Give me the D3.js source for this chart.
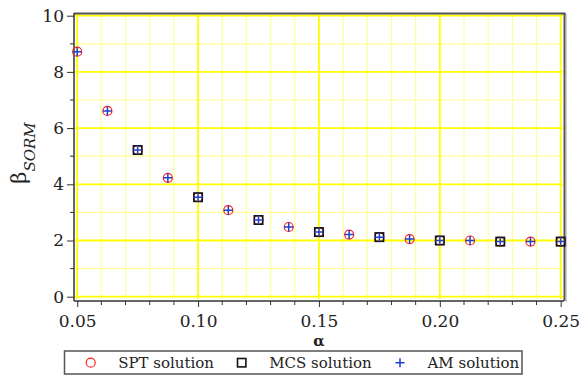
<!DOCTYPE html>
<html>
<head>
<meta charset="utf-8">
<script src="https://cdn.jsdelivr.net/npm/d3@7"></script>
<style>
  html, body { margin: 0; padding: 0; background: #fff; }
  svg { display: block; }
</style>
</head>
<body>
<svg id="chart" width="582" height="376"></svg>
<script>
// Reliability index vs. alpha for three solution methods
const alpha   = [0.05, 0.0625, 0.075, 0.0875, 0.10, 0.1125, 0.125, 0.1375, 0.15, 0.1625, 0.175, 0.1875, 0.20, 0.2125, 0.225, 0.2375, 0.25];
const sptBeta = [8.72, 6.61, 5.22, 4.23, 3.54, 3.08, 2.73, 2.48, 2.30, 2.21, 2.12, 2.05, 2.00, 2.00, 1.96, 1.96, 1.96];
const amBeta  = [8.72, 6.61, 5.22, 4.23, 3.54, 3.08, 2.73, 2.48, 2.30, 2.21, 2.12, 2.05, 2.00, 2.00, 1.96, 1.96, 1.96];
const mcsAlpha = [0.075, 0.10, 0.125, 0.15, 0.175, 0.20, 0.225, 0.25];
const mcsBeta  = [5.22, 3.54, 2.73, 2.30, 2.12, 2.00, 1.96, 1.96];
const xTicks = [0.05, 0.10, 0.15, 0.20, 0.25];
const yTicks = [0, 2, 4, 6, 8, 10];
const legendLabels = ["SPT solution", "MCS solution", "AM solution"];

const svg = d3.select("#chart");
const FONT = "'DejaVu Serif', serif";

const x = d3.scaleLinear().domain([0.05, 0.25]).range([77.2, 560.7]);
const y = d3.scaleLinear().domain([0, 10]).range([296.7, 15.7]);

const xMinor = d3.range(0, 21).map(i => 0.05 + i * 0.01).filter(v => !xTicks.some(t => Math.abs(t - v) < 1e-9));
const yMinor = [1, 3, 5, 7, 9];

// grid: light minor lines first, strong major lines on top
const grid = svg.append("g");
grid.selectAll(".xm").data(xMinor).join("line")
  .attr("x1", d => x(d)).attr("x2", d => x(d)).attr("y1", 14).attr("y2", 299)
  .attr("stroke", "#ffff99").attr("stroke-width", 1.2);
grid.selectAll(".ym").data(yMinor).join("line")
  .attr("x1", 75).attr("x2", 563).attr("y1", d => y(d)).attr("y2", d => y(d))
  .attr("stroke", "#ffff99").attr("stroke-width", 1.2);
grid.selectAll(".xM").data(xTicks).join("line")
  .attr("x1", d => x(d)).attr("x2", d => x(d)).attr("y1", 14).attr("y2", 299)
  .attr("stroke", "#ffff00").attr("stroke-width", 1.8);
grid.selectAll(".yM").data(yTicks).join("line")
  .attr("x1", 75).attr("x2", 563).attr("y1", d => y(d)).attr("y2", d => y(d))
  .attr("stroke", "#ffff00").attr("stroke-width", 1.8);

// frame on top and right
svg.append("line").attr("x1", 74).attr("x2", 565.5).attr("y1", 13.5).attr("y2", 13.5)
  .attr("stroke", "#555").attr("stroke-width", 2);
svg.append("line").attr("x1", 564.5).attr("x2", 564.5).attr("y1", 13).attr("y2", 301)
  .attr("stroke", "#555").attr("stroke-width", 2);
svg.append("line").attr("x1", 566.5).attr("x2", 566.5).attr("y1", 14).attr("y2", 302)
  .attr("stroke", "#ccc").attr("stroke-width", 1);

// axes offset slightly from the plot area
const xAxisY = 301;
const yAxisX = 74;
const xAxis = d3.axisBottom(x).tickValues(xTicks).tickFormat(d3.format(".2f")).tickSize(6).tickSizeOuter(0);
const gx = svg.append("g").attr("transform", `translate(0,${xAxisY})`).call(xAxis);
gx.select(".domain").attr("d", `M${yAxisX},0H564`).attr("stroke", "#333").attr("stroke-width", 1.5);
gx.selectAll(".tick line").attr("stroke", "#333");
gx.selectAll(".tick text").attr("font-family", FONT).attr("font-size", 17).attr("fill", "#222").attr("dy", "1.0em");
gx.selectAll(".mt").data(xMinor).join("line").attr("class", "mt")
  .attr("x1", d => x(d)).attr("x2", d => x(d)).attr("y1", 0).attr("y2", 4).attr("stroke", "#333");

const yAxis = d3.axisLeft(y).tickValues(yTicks).tickFormat(d3.format("d")).tickSize(7).tickSizeOuter(0);
const gy = svg.append("g").attr("transform", `translate(${yAxisX},0)`).call(yAxis);
gy.select(".domain").attr("d", `M0,13V${xAxisY}`).attr("stroke", "#333").attr("stroke-width", 1.5);
gy.selectAll(".tick line").attr("stroke", "#333");
gy.selectAll(".tick text").attr("font-family", FONT).attr("font-size", 17).attr("fill", "#222").attr("x", -10);
gy.selectAll(".mt").data(yMinor).join("line").attr("class", "mt")
  .attr("x1", -4).attr("x2", 0).attr("y1", d => y(d)).attr("y2", d => y(d)).attr("stroke", "#333");

// axis titles
svg.append("text").attr("x", 319).attr("y", 346).attr("text-anchor", "middle")
  .attr("font-family", FONT).attr("font-size", 15).attr("font-weight", "bold").attr("fill", "#222").text("α");
const yt = svg.append("text").attr("transform", "translate(26,153) rotate(-90)")
  .attr("text-anchor", "middle").attr("font-family", FONT).attr("fill", "#222");
yt.append("tspan").attr("font-size", 21).text("β");
yt.append("tspan").attr("font-size", 15).attr("font-style", "italic").attr("dy", 9).text("SORM");

// markers: circles, then squares, then plus signs on top
const circle = (g, cx, cy) => g.append("circle").attr("cx", cx).attr("cy", cy).attr("r", 4.5)
  .attr("fill", "none").attr("stroke", "#ff2020").attr("stroke-width", 1.2);
const square = (g, cx, cy) => g.append("rect").attr("x", cx - 4.2).attr("y", cy - 4.2)
  .attr("width", 8.4).attr("height", 8.4).attr("fill", "none").attr("stroke", "#111").attr("stroke-width", 1.6);
const plus = (g, cx, cy) => g.append("path").attr("d", `M${cx - 4.5},${cy}H${cx + 4.5}M${cx},${cy - 4.5}V${cy + 4.5}`)
  .attr("stroke", "#2040d0").attr("stroke-width", 1.5);

const marks = svg.append("g");
alpha.forEach((a, i) => circle(marks, x(a), y(sptBeta[i])));
mcsAlpha.forEach((a, i) => square(marks, x(a), y(mcsBeta[i])));
alpha.forEach((a, i) => plus(marks, x(a), y(amBeta[i])));

// legend
const lg = svg.append("g");
lg.append("rect").attr("x", 64.5).attr("y", 351).attr("width", 457.5).attr("height", 23)
  .attr("fill", "#fff").attr("stroke", "#555").attr("stroke-width", 1.5);
const lx = [90.7, 241.7, 400];
const ly = 362.7;
circle(lg, lx[0], ly);
square(lg, lx[1], ly);
plus(lg, lx[2], ly);
lg.selectAll(".lt").data(legendLabels).join("text").attr("class", "lt")
  .attr("x", (d, i) => lx[i] + 27.5).attr("y", 367.5)
  .attr("font-family", FONT).attr("font-size", 15).attr("fill", "#222").text(d => d);
</script>
</body>
</html>
